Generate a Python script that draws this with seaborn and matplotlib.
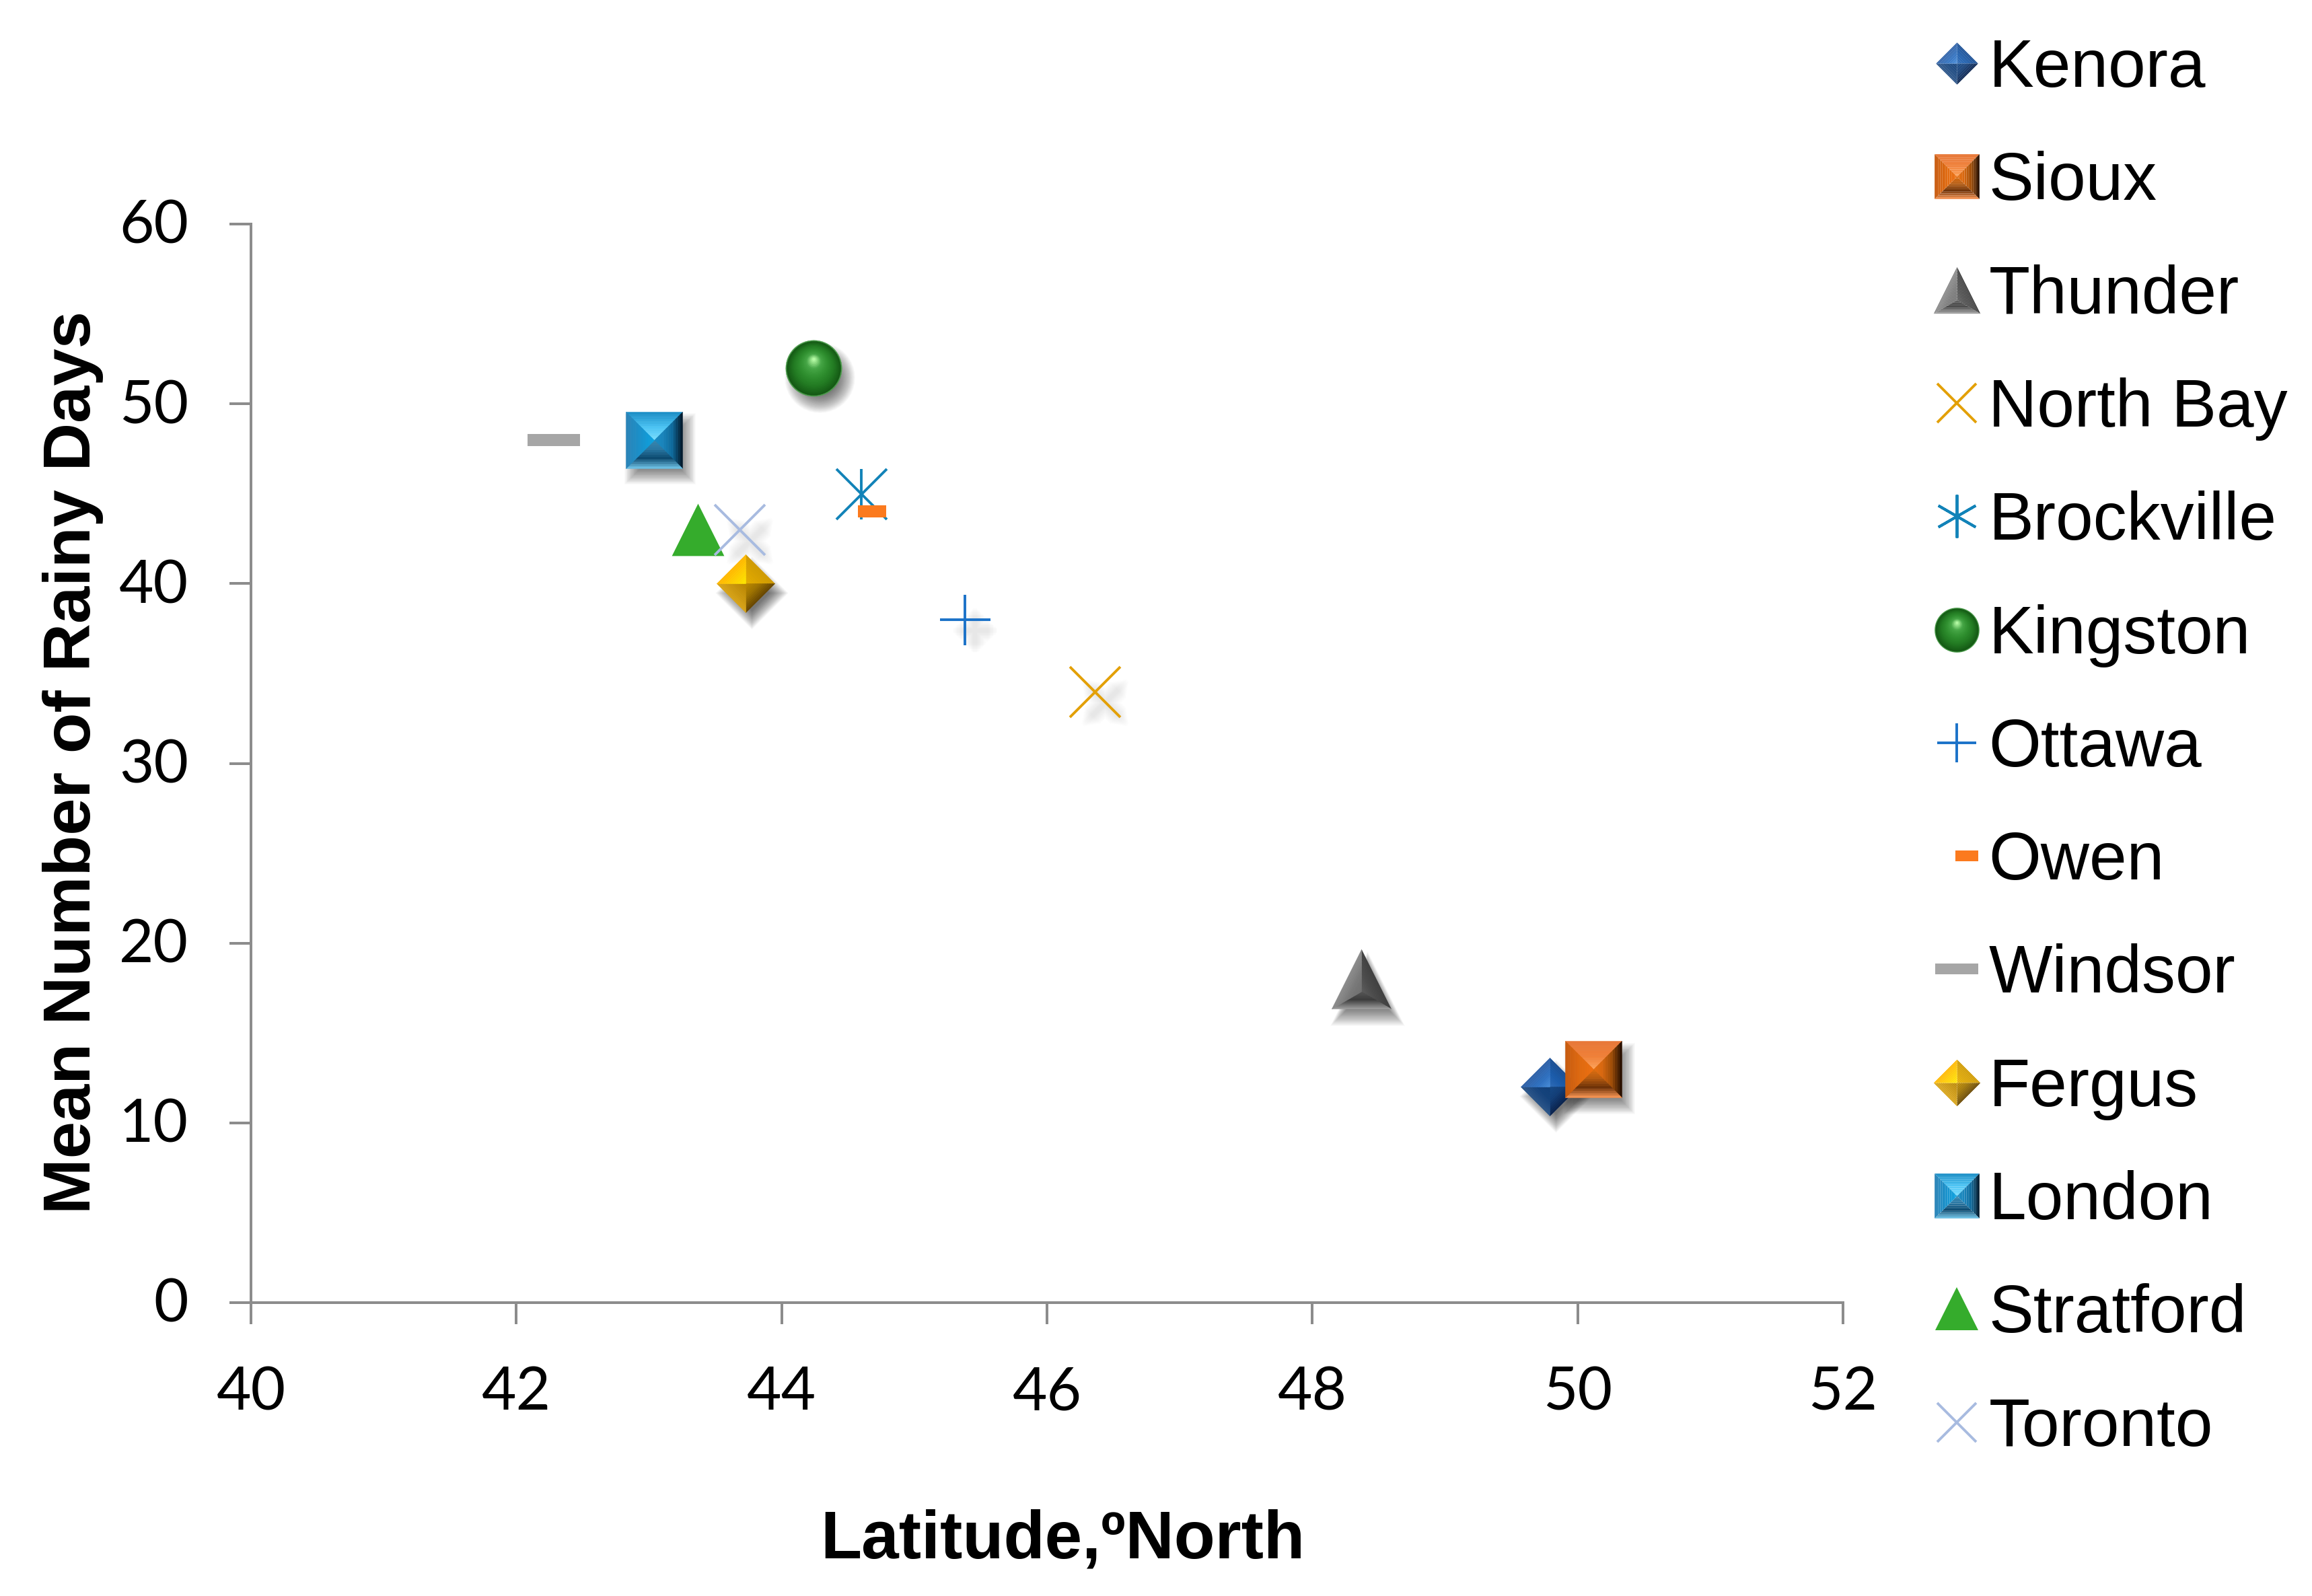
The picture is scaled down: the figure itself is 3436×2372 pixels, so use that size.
import matplotlib
matplotlib.use("Agg")
from matplotlib import pyplot as plt
from matplotlib.legend_handler import HandlerTuple
from matplotlib.lines import Line2D
from matplotlib.path import Path
from matplotlib.transforms import ScaledTranslation, offset_copy
import numpy as np
import seaborn as sns

# 数据
stations = ["Kenora", "Sioux", "Thunder", "North Bay", "Brockville", "Kingston", "Ottawa",
            "Owen", "Windsor", "Fergus", "London", "Stratford", "Toronto"]
latitude = [49.79, 50.12, 48.37, 46.36, 44.6, 44.24, 45.38, 44.68, 42.28, 43.73, 43.04, 43.37, 43.68]
rainy_days = [12, 13, 18, 34, 45, 52, 38, 44, 48, 40, 48, 43, 43]
x_ticks = [40, 42, 44, 46, 48, 50, 52]
y_ticks = [0, 10, 20, 30, 40, 50, 60]

sns.set_theme(style="white")
plt.rcParams['font.family'] = ['Liberation Sans', 'DejaVu Sans']

fig, ax = plt.subplots(figsize=(17.18, 11.86), dpi=200)
fig.subplots_adjust(left=373 / 3436, right=2739 / 3436, top=1 - 333 / 2372, bottom=1 - 1936 / 2372)


def polygon_path(verts):
    # the lone (1, 1) keeps matplotlib from rescaling small pieces
    pts = [(1, 1)] + [tuple(v) for v in verts] + [tuple(verts[0])]
    codes = [Path.MOVETO, Path.MOVETO] + [Path.LINETO] * (len(verts) - 1) + [Path.CLOSEPOLY]
    return Path(pts, codes)


def blend(stops, t):
    rgb = np.array([matplotlib.colors.to_rgb(c) for c in stops])
    pos = np.linspace(0, 1, len(stops))
    return tuple(float(np.interp(t, pos, rgb[:, k])) for k in range(3))


def bevel_pieces(outline, centre, shades, steps=12):
    # each edge of the outline is a facet fading from the edge to the centre
    pieces = []
    n = len(outline)
    c = np.array(centre, dtype=float)
    for i in range(n):
        p0, p1 = np.array(outline[i], dtype=float), np.array(outline[(i + 1) % n], dtype=float)
        for k in range(steps):
            t0, t1 = k / steps, (k + 1) / steps
            verts = [p0 + (c - p0) * t0, p1 + (c - p1) * t0, p1 + (c - p1) * t1, p0 + (c - p0) * t1]
            pieces.append((polygon_path(verts), blend(shades[i], t0)))
    return pieces


def ball_pieces(layers=22):
    angle = np.linspace(0, 2 * np.pi, 60, endpoint=False)
    pieces = [(polygon_path(np.c_[np.cos(angle), np.sin(angle)]), "#4c9c4c")]
    stops = ["#155a15", "#227a22", "#2f8f2f", "#45a545", "#b4faa4"]
    for k in range(layers):
        t = k / (layers - 1)
        r = 0.96 * (1 - t) + 0.05 * t
        cy = 0.32 * t
        pieces.append((polygon_path(np.c_[r * np.cos(angle), r * np.sin(angle) + cy]), blend(stops, t)))
    return pieces


SQUARE = [(-1, 1), (1, 1), (1, -1), (-1, -1)]
DIAMOND = [(0, 1), (1, 0), (0, -1), (-1, 0)]
TRIANGLE = [(0, 1), (1, -1), (-1, -1)]
CIRCLE = [(np.cos(a), np.sin(a)) for a in np.linspace(0, 2 * np.pi, 40, endpoint=False)]

shaded = {
    "Kenora": (DIAMOND, 31, 22.5, bevel_pieces(DIAMOND, (0, 0), [
        ["#1a4f94", "#1a5cac", "#2f6cb8"], ["#0a2450", "#123e78", "#154a88"],
        ["#2a5488", "#14427c", "#103f78"], ["#2f62a8", "#2e70c0", "#4a90dc"]])),
    "Sioux": (SQUARE, 30.2, 24, bevel_pieces(SQUARE, (0, 0), [
        ["#e87838", "#f08038", "#ffa860"], ["#2a1000", "#a04e08", "#d86810", "#e87010"],
        ["#f09050", "#6e3208", "#b85c10", "#e07010"], ["#c85c10", "#e06a10", "#f07010"]])),
    "Thunder": (TRIANGLE, 31.7, 25, bevel_pieces(TRIANGLE, (0, -0.42), [
        ["#404040", "#4c4c4c", "#5e5e5e"], ["#9a9a9a", "#3c3c3c", "#555555"], ["#8a8a8a", "#787878", "#707070"]])),
    "Kingston": (CIRCLE, 30, 24, ball_pieces()),
    "Fergus": (DIAMOND, 31, 25, bevel_pieces(DIAMOND, (0, 0), [
        ["#d09a00", "#e8b000"], ["#6a4800", "#a07400", "#c08c00"], ["#d8a418", "#b88400"], ["#ffb800", "#ffea00"]])),
    "London": (SQUARE, 30.2, 24, bevel_pieces(SQUARE, (0, 0), [
        ["#1e90c8", "#4cc4f4", "#80e0ff"], ["#031c30", "#0f6a9c", "#1a85bc", "#1a8cc4"],
        ["#6abce0", "#0d4a70", "#2a78a4", "#3a88b0"], ["#2a84b8", "#1892cc", "#0aa6e4"]])),
}

# soft shadows first, out of stacked see-through copies
shadow_shift = offset_copy(ax.transData, fig=fig, x=3.2, y=-5, units='points')
for name, (outline, size, legend_size, pieces) in shaded.items():
    i = stations.index(name)
    path = polygon_path(outline)
    for grow in np.linspace(1.26, 0.6, 34):
        ax.scatter([latitude[i]], [rainy_days[i]], marker=path, s=(size * grow) ** 2, color='black', alpha=0.02,
                   linewidths=0, transform=shadow_shift, zorder=2)

line_shift = offset_copy(ax.transData, fig=fig, x=5.5, y=-6, units='points')
for name, mk in [("North Bay", "x"), ("Ottawa", "+"), ("Toronto", "x")]:
    i = stations.index(name)
    for lw in np.linspace(2, 12, 12):
        ax.scatter([latitude[i]], [rainy_days[i]], marker=mk, s=(26 - lw) ** 2, color='black', alpha=0.008,
                   linewidths=lw, transform=line_shift, zorder=2)

WINDSOR_DASH = polygon_path([(-1, 0.24), (1, 0.24), (1, -0.24), (-1, -0.24)])
OWEN_DASH = polygon_path([(-1, 0.46), (1, 0.46), (1, -0.46), (-1, -0.46)])
OWEN_KEY = polygon_path([(-0.06, 0.25), (1, 0.25), (1, -0.25), (-0.06, -0.25)])

flat = {
    "North Bay": ("x", "#e3a007", 27, 1.4),
    "Brockville": ("x", "#1283b8", 27, 1.4),
    "Ottawa": ("+", "#1b72c8", 27, 1.4),
    "Owen": (OWEN_DASH, "#fb7a1e", 14.8, 0),
    "Windsor": (WINDSOR_DASH, "#a6a6a6", 28.4, 0),
    "Stratford": ("^", "#35ac2c", 28, 0),
    "Toronto": ("x", "#a8bbe0", 27, 1.4),
}

# later series sit on top of earlier ones
for order, name in enumerate(stations):
    i = stations.index(name)
    z = 3 + order
    if name in shaded:
        size, pieces = shaded[name][1], shaded[name][3]
        for path, col in pieces:
            sns.scatterplot(x=[latitude[i]], y=[rainy_days[i]], marker=path, s=size ** 2, color=[col],
                            edgecolor=[col], linewidth=0.2, ax=ax, zorder=z)
    else:
        mk, col, size, lw = flat[name]
        sns.scatterplot(x=[latitude[i]], y=[rainy_days[i]], marker=mk, s=size ** 2, color=col, linewidth=lw,
                        ax=ax, zorder=z)
        if name == "Brockville":
            sns.scatterplot(x=[latitude[i]], y=[rainy_days[i]], marker="|", s=size ** 2, color=col, linewidth=lw,
                            ax=ax, zorder=z)

ax.set_xlim(40, 52)
ax.set_ylim(0, 60)
ax.set_xticks(x_ticks)
ax.set_yticks(y_ticks)
sns.despine(ax=ax)
for side in ['left', 'bottom']:
    ax.spines[side].set_color('#8c8c8c')
    ax.spines[side].set_linewidth(1.44)
ax.tick_params(axis='both', length=11.5, width=1.44, color='#8c8c8c', bottom=True, left=True, labelsize=32,
               labelcolor='black')
ax.tick_params(axis='x', pad=22)
ax.tick_params(axis='y', pad=22)
for lab in ax.get_xticklabels() + ax.get_yticklabels():
    lab.set_family(['Lato', 'DejaVu Sans'])
# the y labels sit a little above their ticks
nudge = ScaledTranslation(0, 1.5 / 72, fig.dpi_scale_trans)
for lab in ax.get_yticklabels():
    lab.set_transform(lab.get_transform() + nudge)

ax.set_xlabel("Latitude,ºNorth", fontsize=36, fontweight='bold', color='black')
ax.set_ylabel("Mean Number of Rainy Days", fontsize=35.8, fontweight='bold', color='black')
ax.xaxis.set_label_coords(0.510, -0.191)
ax.yaxis.set_label_coords(-0.0924, 0.5007)

# legend keys, built from the same pieces as the chart marks
handles = []
for name in stations:
    if name in shaded:
        legend_size, pieces = shaded[name][2], shaded[name][3]
        handles.append(tuple(Line2D([], [], ls='', marker=path, ms=legend_size, color=col, mew=0)
                             for path, col in pieces))
    elif name == "Owen":
        handles.append(Line2D([], [], ls='', marker=OWEN_KEY, ms=22.7, color=flat[name][1], mew=0))
    elif name == "Windsor":
        handles.append(Line2D([], [], ls='', marker=WINDSOR_DASH, ms=22.7, color=flat[name][1], mew=0))
    elif name == "Stratford":
        handles.append(Line2D([], [], ls='', marker='^', ms=22.7, color=flat[name][1], mew=0))
    elif name == "Brockville":
        handles.append(Line2D([], [], ls='', marker=(6, 2, 0), ms=23, color=flat[name][1], mew=1.4))
    else:
        handles.append(Line2D([], [], ls='', marker=flat[name][0], ms=21, color=flat[name][1], mew=1.4))

fig.legend(handles, stations, loc='upper left', bbox_to_anchor=(2858 / 3436, 1 - 56 / 2372), frameon=False,
           fontsize=36, labelspacing=0.743, handletextpad=-0.026, handlelength=1.0, borderaxespad=0, borderpad=0,
           labelcolor='black', numpoints=1, handler_map={tuple: HandlerTuple(ndivide=1, pad=0)})

plt.savefig('out.png', dpi=200)
